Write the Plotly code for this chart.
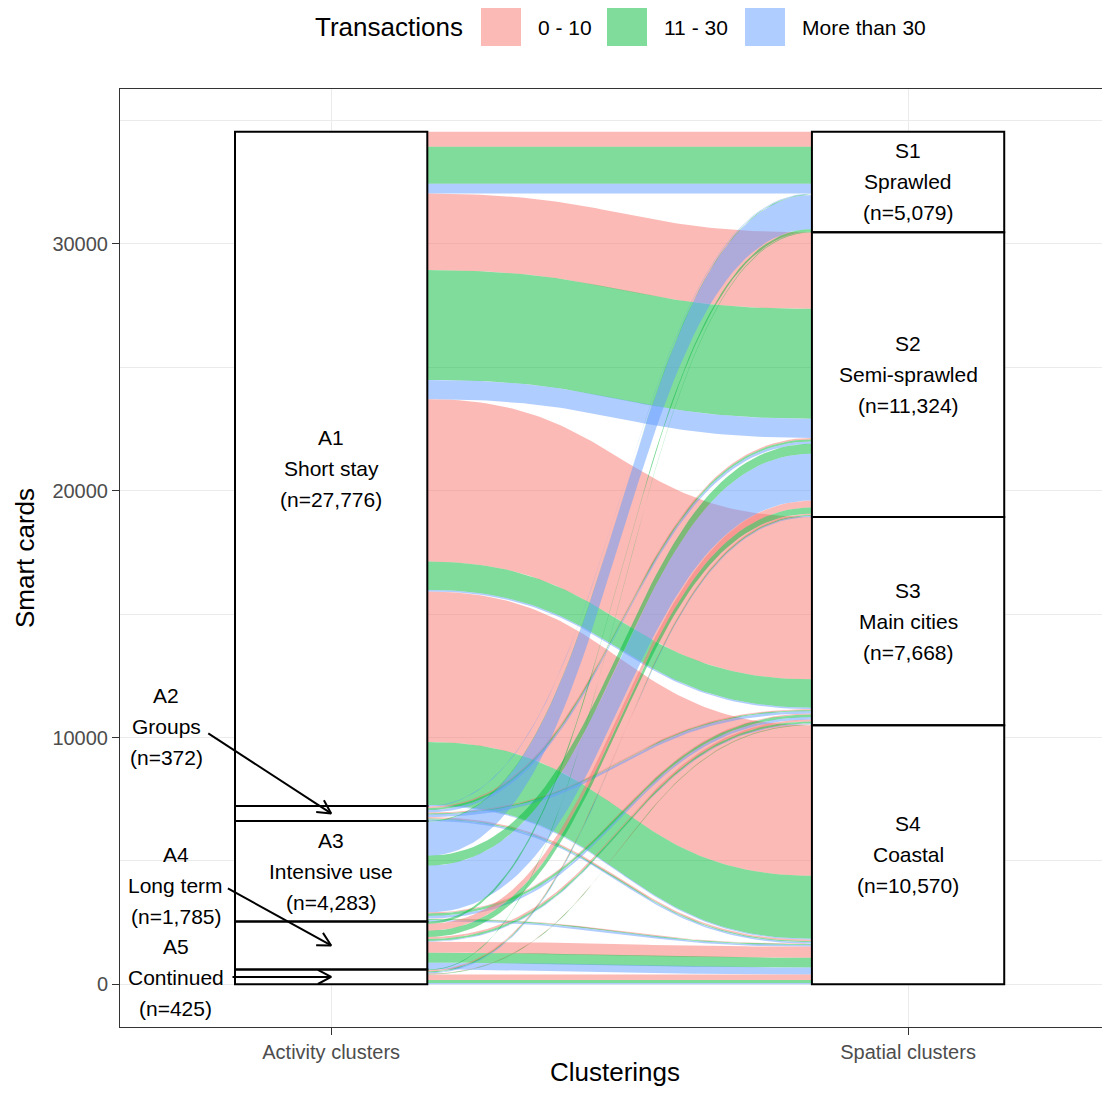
import numpy as np
import plotly.graph_objects as go

# ---------------- data ----------------
activity_codes = ["A1", "A2", "A3", "A4", "A5"]
activity_names = ["Short stay", "Groups", "Intensive use", "Long term", "Continued"]
activity_n = ["(n=27,776)", "(n=372)", "(n=4,283)", "(n=1,785)", "(n=425)"]
spatial_codes = ["S1", "S2", "S3", "S4"]
spatial_names = ["Sprawled", "Semi-sprawled", "Main cities", "Coastal"]
spatial_n = ["(n=5,079)", "(n=11,324)", "(n=7,668)", "(n=10,570)"]
transaction_groups = ["0 - 10", "11 - 30", "More than 30"]
axis_categories = ["Activity clusters", "Spatial clusters"]
y_ticks = [0, 10000, 20000, 30000]
y_minor = [5000, 15000, 25000, 35000]

# smart cards flowing from each activity cluster to S1..S4, split by transactions [0-10, 11-30, >30]
flows_A1 = [[610, 1500, 400], [3100, 4450, 780], [6580, 1150, 60], [6100, 2550, 40]]
flows_A2 = [[0, 0, 30], [60, 80, 100], [40, 40, 100], [60, 40, 60]]
flows_A3 = [[0, 30, 1380], [0, 400, 1900], [40, 100, 100], [20, 40, 60]]
flows_A4 = [[0, 100, 0], [280, 250, 0], [80, 80, 30], [450, 400, 280]]
flows_A5 = [[0, 30, 0], [50, 40, 40], [20, 20, 0], [220, 120, 60]]

# ---------------- styles ----------------
fill_colors = ["rgba(248,118,109,0.5)", "rgba(0,186,56,0.5)", "rgba(97,156,255,0.5)"]
FONT = "Liberation Sans, Arial, sans-serif"
OFF = 8  # page body margin of the browser
W, H = 1110 - OFF, 1079
ML, MR, MT = 120 - OFF, 0, 89 - OFF
MB = H - (1027 - OFF)
X_RANGE = [0.634, 2.35]
STRAT_W = 1 / 3

F = np.array([flows_A1, flows_A2, flows_A3, flows_A4, flows_A5], dtype=float)
a_tot = F.sum(axis=(1, 2))
s_tot = F.sum(axis=(0, 2))
TOTAL = a_tot.sum()
Y_RANGE = [-0.05 * TOTAL, 1.05 * TOTAL]

px_x = (W - ML - MR) / (X_RANGE[1] - X_RANGE[0])
px_y = (H - MT - MB) / (Y_RANGE[1] - Y_RANGE[0])

a_top = TOTAL - np.concatenate([[0], np.cumsum(a_tot)[:-1]])
s_top = TOTAL - np.concatenate([[0], np.cumsum(s_tot)[:-1]])

# lode positions
left_pos = {}
for i in range(F.shape[0]):
    cur = a_top[i]
    for j in range(F.shape[1]):
        for k in range(F.shape[2]):
            v = F[i, j, k]
            left_pos[(i, j, k)] = (cur - v, cur)
            cur -= v
right_pos = {}
for j in range(F.shape[1]):
    cur = s_top[j]
    for i in range(F.shape[0]):
        for k in range(F.shape[2]):
            v = F[i, j, k]
            right_pos[(i, j, k)] = (cur - v, cur)
            cur -= v


def bez(x0, x1, y0, y1, n=70, k=0.5):
    t = np.linspace(0, 1, n)
    dx = x1 - x0
    x = x0 + dx * (3 * k * t * (1 - t) ** 2 + 3 * (1 - k) * t ** 2 * (1 - t) + t ** 3)
    y = y0 + (y1 - y0) * (3 * t ** 2 - 2 * t ** 3)
    return x, y


fig = go.Figure()
xa, xb = 1 + STRAT_W / 2, 2 - STRAT_W / 2
for i in range(F.shape[0]):
    for j in range(F.shape[1]):
        for k in range(F.shape[2]):
            if F[i, j, k] <= 0:
                continue
            lb, lt = left_pos[(i, j, k)]
            rb, rt = right_pos[(i, j, k)]
            xt, yt = bez(xa, xb, lt, rt)
            xbm, ybm = bez(xa, xb, lb, rb)
            xs = np.concatenate([xt, xbm[::-1], xt[:1]])
            ys = np.concatenate([yt, ybm[::-1], yt[:1]])
            fig.add_trace(go.Scatter(x=xs, y=ys, mode="lines", fill="toself",
                                     fillcolor=fill_colors[k], line=dict(width=0),
                                     hoverinfo="skip", showlegend=False,
                                     name=transaction_groups[k]))

# strata
shapes = []
for i in range(len(activity_codes)):
    y1 = a_top[i]; y0 = y1 - a_tot[i]
    shapes.append(dict(type="rect", x0=1 - STRAT_W / 2, x1=1 + STRAT_W / 2, y0=y0, y1=y1,
                       xref="x", yref="y", fillcolor="white", line=dict(width=0), layer="between"))
    shapes.append(dict(type="rect", x0=1 - STRAT_W / 2, x1=1 + STRAT_W / 2, y0=y0, y1=y1,
                       xref="x", yref="y", fillcolor="rgba(0,0,0,0)", line=dict(color="black", width=2), layer="above"))
for j in range(len(spatial_codes)):
    y1 = s_top[j]; y0 = y1 - s_tot[j]
    shapes.append(dict(type="rect", x0=2 - STRAT_W / 2, x1=2 + STRAT_W / 2, y0=y0, y1=y1,
                       xref="x", yref="y", fillcolor="white", line=dict(width=0), layer="between"))
    shapes.append(dict(type="rect", x0=2 - STRAT_W / 2, x1=2 + STRAT_W / 2, y0=y0, y1=y1,
                       xref="x", yref="y", fillcolor="rgba(0,0,0,0)", line=dict(color="black", width=2), layer="above"))

annotations = []


def label3(x, y, lines, size=21):
    for idx, line in enumerate(lines):
        annotations.append(dict(x=x, y=y, xref="x", yref="y", text=line, showarrow=False,
                                yshift=(1 - idx) * 31, xanchor="center", yanchor="middle",
                                font=dict(size=size, color="black", family=FONT)))


a_mid = a_top - a_tot / 2
s_mid = s_top - s_tot / 2
for i in [0, 2]:
    label3(1, a_mid[i], [activity_codes[i], activity_names[i], activity_n[i]])
for j in range(len(spatial_codes)):
    label3(2, s_mid[j], [spatial_codes[j], spatial_names[j], spatial_n[j]])

# outside labels with arrows for small strata
outside = {1: (0.714, 10450, 0.787, 10170), 3: (0.731, 4010, 0.821, 3890), 4: (0.731, 290, 0.829, 300)}


def arrow(x0, y0, x1, y1, L=15, ang=28):
    sx0, sy0, sx1, sy1 = x0 * px_x, -y0 * px_y, x1 * px_x, -y1 * px_y
    d = np.array([sx1 - sx0, sy1 - sy0]); d = d / np.linalg.norm(d)
    pts = []
    for s in (1, -1):
        a = np.deg2rad(ang * s)
        r = np.array([d[0] * np.cos(a) - d[1] * np.sin(a), d[0] * np.sin(a) + d[1] * np.cos(a)])
        p = np.array([sx1, sy1]) - L * r
        pts.append((p[0] / px_x, -p[1] / px_y))
    xs = [x0, x1, None, pts[0][0], x1, pts[1][0]]
    ys = [y0, y1, None, pts[0][1], y1, pts[1][1]]
    fig.add_trace(go.Scatter(x=xs, y=ys, mode="lines", line=dict(color="black", width=2),
                             hoverinfo="skip", showlegend=False))


for i, (tx, ty, ax0, ay0) in outside.items():
    label3(tx, ty, [activity_codes[i], activity_names[i], activity_n[i]])
    arrow(ax0, ay0, 1.0, a_mid[i])


# manual legend (paper coords from screen pixels)
def PX(p):
    return (p - OFF - ML) / (W - ML - MR)


def PY(p):
    return (H - MB - (p - OFF)) / (H - MT - MB)


annotations.append(dict(x=PX(313), y=PY(27), xref="paper", yref="paper", text="Transactions",
                        showarrow=False, xanchor="left", yanchor="middle",
                        font=dict(size=26, color="black", family=FONT)))
key_x = [481, 607, 745]
lab_x = [536, 662, 800]
for k in range(3):
    shapes.append(dict(type="rect", xref="paper", yref="paper", x0=PX(key_x[k]), x1=PX(key_x[k] + 40),
                       y0=PY(46), y1=PY(7), fillcolor=fill_colors[k], line=dict(width=0), layer="above"))
    annotations.append(dict(x=PX(lab_x[k]), y=PY(27), xref="paper", yref="paper", text=transaction_groups[k],
                            showarrow=False, xanchor="left", yanchor="middle",
                            font=dict(size=21, color="black", family=FONT)))

fig.update_layout(
    width=W, height=H, margin=dict(l=ML, r=MR, t=MT, b=MB, autoexpand=False),
    plot_bgcolor="white", paper_bgcolor="white",
    font=dict(family=FONT),
    shapes=shapes, annotations=annotations, showlegend=False,
    xaxis=dict(range=X_RANGE, tickmode="array", tickvals=[1, 2], ticktext=axis_categories,
               showgrid=True, gridcolor="#EBEBEB", gridwidth=1.3, zeroline=False,
               showline=True, linecolor="#333333", linewidth=1, mirror=True,
               ticks="outside", tickcolor="#333333", ticklen=7, tickwidth=1,
               tickfont=dict(size=20, color="#4D4D4D", family=FONT),
               title=dict(text="Clusterings", font=dict(size=26, color="black", family=FONT), standoff=11)),
    yaxis=dict(range=Y_RANGE, tickmode="array", tickvals=y_ticks, ticktext=[str(v) for v in y_ticks],
               showgrid=True, gridcolor="#EBEBEB", gridwidth=1.3, zeroline=False,
               showline=True, linecolor="#333333", linewidth=1, mirror=False,
               ticks="outside", tickcolor="#333333", ticklen=7, tickwidth=1,
               tickfont=dict(size=20, color="#4D4D4D", family=FONT),
               minor=dict(tickmode="array", tickvals=y_minor, showgrid=True, gridcolor="#EBEBEB",
                          gridwidth=0.8, ticks=""),
               title=dict(text="Smart cards", font=dict(size=26, color="black", family=FONT), standoff=10)),
)

fig.write_html("out.html")
